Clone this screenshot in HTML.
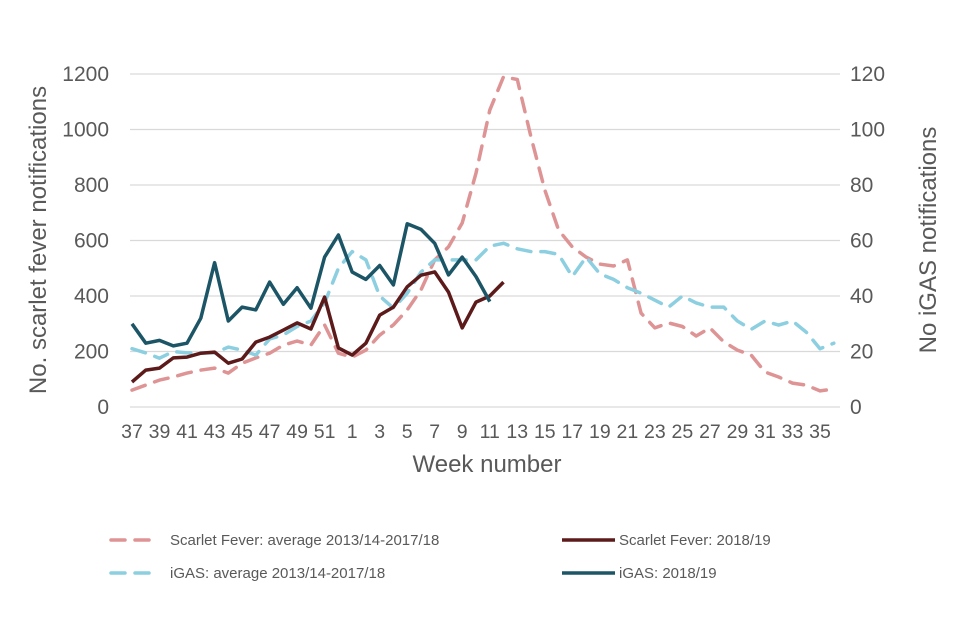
<!DOCTYPE html>
<html><head><meta charset="utf-8"><style>
html,body{margin:0;padding:0;background:#fff;width:960px;height:640px;overflow:hidden}
svg text{font-family:"Liberation Sans",Arial,sans-serif;fill:#595959}
</style></head><body>
<svg id="chart" width="960" height="640" viewBox="0 0 960 640" xmlns="http://www.w3.org/2000/svg">
<g id="grid"></g>
<g id="yl"></g>
<g id="yr"></g>
<g id="xa"></g>
<g id="series"></g>
<text x="487" y="472" font-size="24" text-anchor="middle">Week number</text>
<text transform="translate(46,240) rotate(-90)" font-size="24" text-anchor="middle">No. scarlet fever notifications</text>
<text transform="translate(936,240) rotate(-90)" font-size="24" text-anchor="middle">No  iGAS notifications</text>
<g>
<g>
<line x1="111" y1="540" x2="158" y2="540" stroke="#DE9494" stroke-width="3.5" stroke-dasharray="14,10" stroke-linecap="round"/>
<text x="170" y="545" font-size="15">Scarlet Fever: average 2013/14-2017/18</text></g>
<g>
<line x1="562" y1="540" x2="615" y2="540" stroke="#5C1A1A" stroke-width="3.5"/>
<text x="619" y="545" font-size="15">Scarlet Fever: 2018/19</text></g>
<g>
<line x1="111" y1="573" x2="158" y2="573" stroke="#8CCFE0" stroke-width="3.5" stroke-dasharray="14,10" stroke-linecap="round"/>
<text x="170" y="578" font-size="15">iGAS: average 2013/14-2017/18</text></g>
<g>
<line x1="562" y1="573" x2="615" y2="573" stroke="#1B5566" stroke-width="3.5"/>
<text x="619" y="578" font-size="15">iGAS: 2018/19</text></g>
</g>
</svg>
<script>
const weeks=[37,38,39,40,41,42,43,44,45,46,47,48,49,50,51,52,1,2,3,4,5,6,7,8,9,10,11,12,13,14,15,16,17,18,19,20,21,22,23,24,25,26,27,28,29,30,31,32,33,34,35,36];
const leftTicks=[0,200,400,600,800,1000,1200];
const rightTicks=[0,20,40,60,80,100,120];
const scarletAvg=[61,79,97,108,122,133,140,122,158,177,194,223,238,223,296,194,180,205,259,296,350,422,530,577,663,843,1070,1190,1180,973,782,638,577,540,515,508,530,338,285,303,290,256,285,235,205,187,126,108,86,79,58,65];
const scarlet2018=[90,133,140,177,180,194,198,158,173,234,252,277,303,281,396,213,187,230,331,360,433,475,487,414,285,378,400,450];
const igasAvg=[21,19.5,17.6,20,19.5,19.5,19.5,21.6,20.5,18.7,24.5,26,29,31,37.5,50,56,53,40,35.6,41,48.6,53,53,53,53,58,59,57,56,56,55,47,54,48,46,43,41,38.5,36,40,37.5,36,36,31,28,31,29.5,31,27,21,23];
const igas2018=[30,23,24,22,23,32,52,31,36,35,45,37,43,35.6,54,62,48.6,46,51,44,66,64,59,47.6,54,47,38];
const NS='http://www.w3.org/2000/svg';
function x(i){return 132+13.76*i;}
function yL(v){return 407-v*(333/1200);}
function yR(v){return 407-v*(333/120);}
function mk(tag,attrs,parent){const e=document.createElementNS(NS,tag);for(const k in attrs)e.setAttribute(k,attrs[k]);parent.appendChild(e);return e;}
const grid=document.getElementById('grid'),yl=document.getElementById('yl'),yr=document.getElementById('yr'),xa=document.getElementById('xa'),ser=document.getElementById('series');
leftTicks.forEach(function(t){
  const g=mk('line',{x1:130,x2:840,y1:yL(t),y2:yL(t),stroke:'#D9D9D9','stroke-width':1.3},grid);
  
  
  const tx=mk('text',{x:109,y:yL(t)+7,'font-size':21,'text-anchor':'end'},yl);
  tx.textContent=t;
  
  
});
rightTicks.forEach(function(t){
  const tx=mk('text',{x:850,y:yR(t)+7,'font-size':21,'text-anchor':'start'},yr);
  tx.textContent=t;
  
  
});
weeks.forEach(function(w,i){
  if(i%2!==0)return;
  const tx=mk('text',{x:x(i),y:438,'font-size':19.5,'text-anchor':'middle'},xa);
  tx.textContent=w;
  
  
});
function line(vals,yf,color,dash,name){
  const pts=vals.map(function(v,i){return x(i).toFixed(1)+','+yf(v).toFixed(1);}).join(' ');
  const a={points:pts,fill:'none',stroke:color,'stroke-width':3.5,'stroke-linejoin':'round'};
  if(dash){a['stroke-dasharray']='14,10';a['stroke-linecap']='round';}
  const p=mk('polyline',a,ser);
  
  
}
line(scarletAvg,yL,'#DE9494',true,'scarlet-fever-average-line');
line(igasAvg,yR,'#8CCFE0',true,'igas-average-line');
line(scarlet2018,yL,'#5C1A1A',false,'scarlet-fever-2018-line');
line(igas2018,yR,'#1B5566',false,'igas-2018-line');
</script>
</body></html>
